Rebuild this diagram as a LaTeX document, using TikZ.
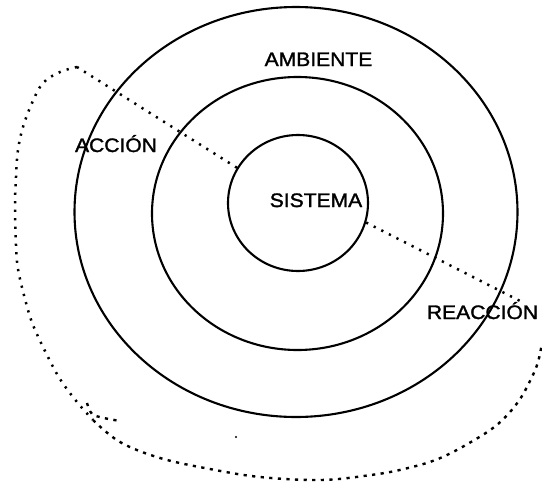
\documentclass[tikz,border=0pt]{standalone}
\usepackage{fontspec}
\newfontfamily\lblfont[FakeStretch=1.08,FakeBold=1.5]{Liberation Sans}
\usetikzlibrary{shapes.geometric}
\begin{document}
\begin{tikzpicture}[x=1pt,y=-1pt,
  ring/.style={draw, ellipse, line width=2.1pt, inner sep=0pt},
  dotline/.style={line width=2.5pt, dash pattern=on 2.2pt off 6.3pt, line cap=butt},
  dashline/.style={line width=2.4pt, dash pattern=on 3.2pt off 5.4pt},
  lbl/.style={font=\lblfont\fontsize{19.5}{22}\selectfont, anchor=base, inner sep=0pt}]
\useasboundingbox (0,0) rectangle (542,485);
\fill[white] (0,0) rectangle (542,485);
% circles
\node[ring, minimum width=443pt, minimum height=410pt] (outer) at (296,212) {};
\node[ring, minimum width=291pt, minimum height=273pt] (middle) at (297.5,213.5) {};
\node[ring, minimum width=140pt, minimum height=136pt] (inner) at (298,203) {};
% labels
\node[lbl] (ambiente) at (318.5,66) {AMBIENTE};
\node[lbl] (accion) at (116,152) {ACCIÓN};
\node[lbl] (sistema) at (316,207) {SISTEMA};
\node[lbl] (reaccion) at (482.5,319) {REACCIÓN};
% dotted connectors
\coordinate (peak) at (77,67);
\coordinate (rend) at (522,302);
\draw[dotline] (inner.150) -- (peak);
\draw[dotline] (inner.-16) -- (rend);
\draw[dotline] plot[smooth, tension=0.6] coordinates {(77,67) (60,72) (43,83) (32,103) (23,127) (18,150) (16,177) (15,207) (16,245) (18,269) (25,299) (33,325) (47,355) (60,379) (77,402) (93,420)};
\draw[dashline] plot[smooth, tension=0.6] coordinates {(93,420) (120,442) (160,458) (210,469) (260,477) (321,480) (371,475) (404,469) (438,459) (471,442) (498,424) (518,402) (531,379) (538,362) (542,343)};
% small hook near the bottom left
\draw[dashline] plot[smooth] coordinates {(87,403) (92,414) (104,418) (120,421)};
\fill (236,437) circle (1.2pt);
\end{tikzpicture}
\end{document}
